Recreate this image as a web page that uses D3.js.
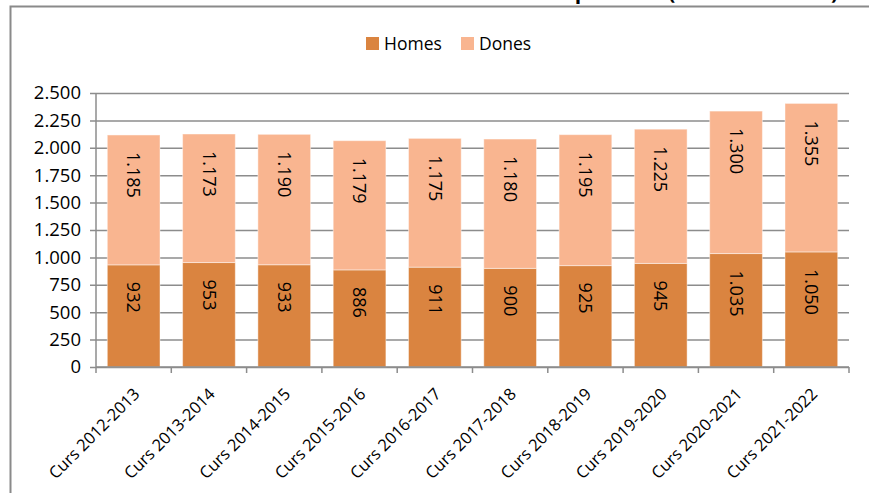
<!DOCTYPE html>
<html>
<head>
<meta charset="utf-8">
<script src="https://cdn.jsdelivr.net/npm/d3@7"></script>
<style>
  html, body { margin: 0; padding: 0; background: #fff; overflow: hidden; }
  svg { display: block; font-family: "Open Sans", sans-serif; }
</style>
</head>
<body>
<svg id="chart" width="869" height="493"></svg>
<script>
const categories = ["Curs 2012-2013","Curs 2013-2014","Curs 2014-2015","Curs 2015-2016","Curs 2016-2017","Curs 2017-2018","Curs 2018-2019","Curs 2019-2020","Curs 2020-2021","Curs 2021-2022"];
const homes = [932, 953, 933, 886, 911, 900, 925, 945, 1035, 1050];
const dones = [1185, 1173, 1190, 1179, 1175, 1180, 1195, 1225, 1300, 1355];
const seriesNames = ["Homes", "Dones"];
const seriesColors = ["#DA8440", "#F9B590"];
const yTicks = [0, 250, 500, 750, 1000, 1250, 1500, 1750, 2000, 2250, 2500];
const titleText = "Alumnes matriculats per sexe (Curs 2012-2022)";

const locale = d3.formatLocale({decimal: ",", thousands: ".", grouping: [3], currency: ["", "€"]});
const fmt = locale.format(",d");

const svg = d3.select("#chart");
const W = 869, H = 493;
const margin = {left: 96, right: 20, top: 93, bottom: 126};
const plotW = W - margin.left - margin.right;
const plotH = H - margin.top - margin.bottom;

// Chart border (frame) and title cut off at the top edge, as in the reference
svg.append("path")
  .attr("d", `M10.5,${H + 2} L10.5,6.5 L${W + 2},6.5`)
  .attr("fill", "none").attr("stroke", "#8a8a8a").attr("stroke-width", 2);
svg.append("text")
  .attr("x", 838).attr("y", -1)
  .attr("text-anchor", "end")
  .attr("font-weight", "bold").attr("font-size", 21)
  .attr("fill", "#000")
  .text(titleText);

const x = d3.scaleBand().domain(categories).range([0, plotW]).paddingInner(0.3).paddingOuter(0.15);
const y = d3.scaleLinear().domain([0, 2500]).range([plotH, 0]);

const g = svg.append("g").attr("transform", `translate(${margin.left},${margin.top})`);

// Gridlines + y axis
const yAxis = d3.axisLeft(y).tickValues(yTicks).tickSize(-plotW).tickFormat(fmt).tickPadding(15);
const yg = g.append("g").call(yAxis);
yg.select(".domain").remove();
yg.selectAll(".tick line").attr("stroke", "#8c8c8c").attr("stroke-width", 1.5).attr("x1", -6);
yg.selectAll(".tick text").attr("font-size", 18.5).attr("fill", "#000").attr("font-family", "'Open Sans', sans-serif");
g.append("line").attr("x1", 0).attr("x2", 0).attr("y1", 0).attr("y2", plotH)
  .attr("stroke", "#8c8c8c").attr("stroke-width", 1.5);

// Stacked data
const table = categories.map((c, i) => ({cat: c, Homes: homes[i], Dones: dones[i]}));
const stack = d3.stack().keys(seriesNames)(table);

const layers = g.selectAll(".layer").data(stack).enter().append("g")
  .attr("fill", (d, i) => seriesColors[i]);
layers.selectAll("rect").data(d => d).enter().append("rect")
  .attr("x", d => x(d.data.cat))
  .attr("width", x.bandwidth())
  .attr("y", d => y(d[1]))
  .attr("height", d => y(d[0]) - y(d[1]))
  .attr("stroke", "#ffffff").attr("stroke-opacity", 0.45).attr("stroke-width", 1);

// Value labels (inside end, rotated)
stack.forEach((layer, li) => {
  g.selectAll(".lbl" + li).data(layer).enter().append("text")
    .attr("transform", d => `translate(${x(d.data.cat) + x.bandwidth() / 2},${y(d[1]) + 17}) rotate(90)`)
    .attr("text-anchor", "start")
    .attr("dy", "0.35em")
    .attr("font-size", 18)
    .attr("fill", "#000")
    .text(d => fmt(d[1] - d[0]));
});

// X axis with ticks at band boundaries
const boundaries = d3.range(categories.length + 1).map(i => i * plotW / categories.length);
g.append("line").attr("x1", 0).attr("x2", plotW).attr("y1", plotH).attr("y2", plotH)
  .attr("stroke", "#8c8c8c").attr("stroke-width", 1.5);
g.selectAll(".xtick").data(boundaries).enter().append("line")
  .attr("x1", d => d).attr("x2", d => d).attr("y1", plotH).attr("y2", plotH + 6)
  .attr("stroke", "#8c8c8c").attr("stroke-width", 1.5);
g.selectAll(".xlabel").data(categories).enter().append("text")
  .attr("transform", d => `translate(${x(d) + x.bandwidth() / 2 + 3},${plotH + 24}) rotate(-45)`)
  .attr("text-anchor", "end")
  .attr("dy", "0.35em")
  .attr("font-size", 16.5)
  .attr("fill", "#000")
  .text(d => d);

// Legend
const legend = svg.append("g").attr("transform", "translate(366,37)");
const items = [{name: "Homes", color: seriesColors[0], x: 0}, {name: "Dones", color: seriesColors[1], x: 95}];
items.forEach(it => {
  legend.append("rect").attr("x", it.x).attr("y", 0).attr("width", 13).attr("height", 13).attr("fill", it.color);
  legend.append("text").attr("x", it.x + 18).attr("y", 6.5).attr("dy", "0.35em")
    .attr("font-size", 17.5).attr("fill", "#000").text(it.name);
});
</script>
</body>
</html>
